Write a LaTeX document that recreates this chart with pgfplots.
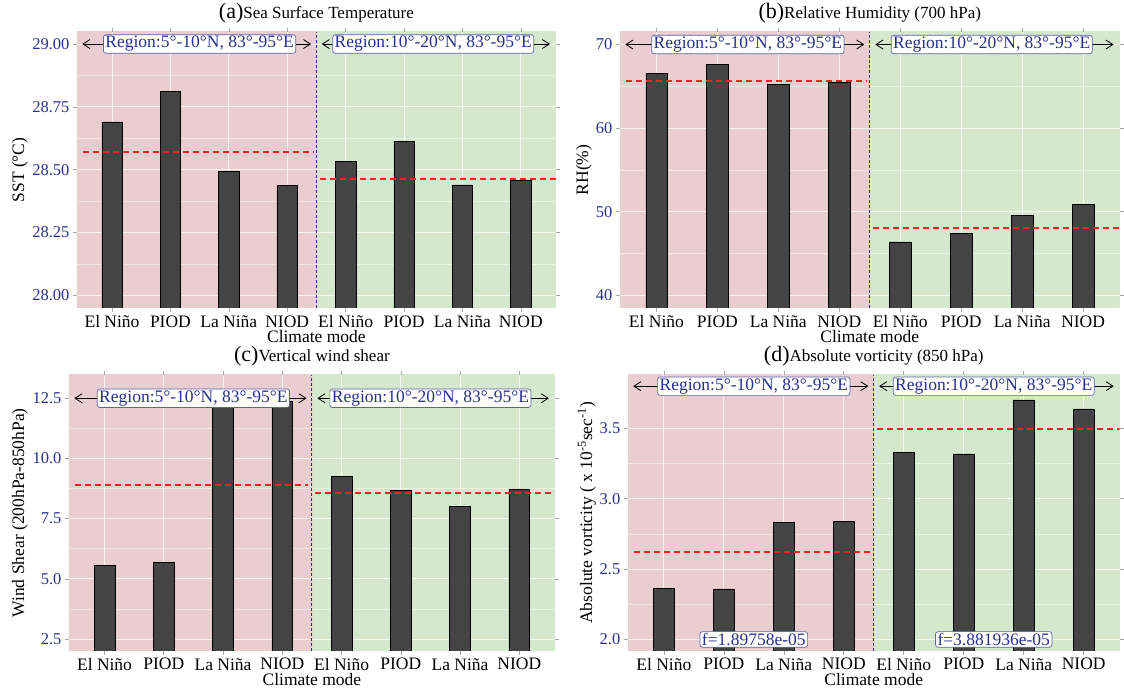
\documentclass[border=0pt]{standalone}
\usepackage{pgfplots}
\pgfplotsset{compat=1.18}
\usepackage{fontspec}
\setmainfont{Liberation Serif}
\usetikzlibrary{arrows.meta}
\definecolor{pinkbg}{RGB}{233,205,209}
\definecolor{greenbg}{RGB}{212,232,205}
\definecolor{navy}{RGB}{40,50,140}
\definecolor{boxdraw}{RGB}{90,100,170}
\definecolor{barfill}{RGB}{68,68,68}
\definecolor{redline}{RGB}{250,35,35}
\pgfdeclarehorizontalshading{split}{100bp}{color(0bp)=(pinkbg); color(50bp)=(pinkbg); color(50.001bp)=(greenbg); color(100bp)=(greenbg)}
\tikzset{lab/.style={fill=white, draw=boxdraw, rounded corners=2.5pt, inner xsep=2pt, inner ysep=1.5pt, text=navy, line width=0.7pt, font=\fontsize{17.5}{19}\selectfont}}
\pgfplotsset{
  panel/.style={
    scale only axis, height=276pt,
    xmin=0.4, xmax=8.6,
    xtick={1,...,8},
    xticklabels={El Niño,PIOD,La Niña,NIOD,El Niño,PIOD,La Niña,NIOD},
    axis background/.style={shading=split},
    axis line style={draw=none},
    tick align=outside, major tick length=4pt, minor tick length=0pt,
    tick style={gray!70, line width=0.6pt},
    xmajorgrids, ymajorgrids, yminorgrids, minor y tick num=1,
    major grid style={white, opacity=0.75, line width=1pt},
    minor grid style={white, opacity=0.45, line width=0.5pt},
    /pgf/number format/assume math mode=true,
    yticklabel style={text=navy, font=\fontsize{16.5}{18}\selectfont},
    xticklabel style={text=black, font=\fontsize{17.5}{19}\selectfont},
    xlabel={Climate mode},
    label style={font=\fontsize{17.5}{19}\selectfont},
    xlabel style={at={(rel axis cs:0.5,0)}, anchor=center, yshift=-29pt},
    title style={at={(rel axis cs:0.5,1)}, anchor=base, yshift=7pt, font=\fontsize{17}{19}\selectfont},
    no markers,
  },
  barp/.style={ybar, bar width=0.35, fill=barfill, draw=black, line width=0.5pt},
  meanl/.style={draw=redline, line width=1.9pt, dash pattern=on 6pt off 4pt},
  divl/.style={draw=navy, line width=1pt, dash pattern=on 3pt off 2pt},
  arrl/.style={black, line width=0.8pt, {Straight Barb[length=7pt,width=9pt]}-{Straight Barb[length=7pt,width=9pt]}},
}
\begin{document}
\begin{tikzpicture}
% (a)
\begin{axis}[panel, at={(77pt,380pt)}, anchor=south west, width=479pt,
  ymin=27.95, ymax=29.048, ytick={28,28.25,28.5,28.75,29},
  yticklabel style={/pgf/number format/.cd, fixed, fixed zerofill, precision=2},
  ylabel={SST (°C)}, ylabel style={at={(rel axis cs:-0.119,0.5)}, anchor=center},
  title={{\fontsize{22}{24}\selectfont(a)}Sea Surface Temperature}]
\addplot[barp] coordinates {(1,28.690) (2,28.812) (3,28.493) (4,28.438) (5,28.534) (6,28.614) (7,28.440) (8,28.458)};
\addplot[meanl] coordinates {(0.5,28.572) (4.44,28.572)};
\addplot[meanl] coordinates {(4.56,28.463) (8.6,28.463)};
\addplot[divl] coordinates {(4.5,27.95) (4.5,29.048)};
\addplot[arrl] coordinates {(0.49,29) (4.41,29)};
\addplot[arrl] coordinates {(4.59,29) (8.5,29)};
\node[lab] at (axis cs:2.5,29) {Region:5°-10°N, 83°-95°E};
\node[lab] at (axis cs:6.5,29) {Region:10°-20°N, 83°-95°E};
\end{axis}
% (b)
\begin{axis}[panel, at={(620pt,380pt)}, anchor=south west, width=500pt,
  ymin=38.5, ymax=71.5, ytick={40,50,60,70},
  ylabel={RH(\%)}, ylabel style={at={(rel axis cs:-0.072,0.5)}, anchor=center},
  title={{\fontsize{22}{24}\selectfont(b)}Relative Humidity (700 hPa)}]
\addplot[barp] coordinates {(1,66.53) (2,67.65) (3,65.22) (4,65.50) (5,46.41) (6,47.37) (7,49.56) (8,50.88)};
\addplot[meanl] coordinates {(0.5,65.62) (4.44,65.62)};
\addplot[meanl] coordinates {(4.56,48.1) (8.6,48.1)};
\addplot[divl] coordinates {(4.5,38.5) (4.5,71.5)};
\addplot[arrl] coordinates {(0.49,70) (4.41,70)};
\addplot[arrl] coordinates {(4.59,70) (8.5,70)};
\node[lab] at (axis cs:2.5,70) {Region:5°-10°N, 83°-95°E};
\node[lab] at (axis cs:6.5,70) {Region:10°-20°N, 83°-95°E};
\end{axis}
% (c)
\begin{axis}[panel, at={(69pt,37pt)}, anchor=south west, width=486pt,
  ymin=2.01, ymax=13.47, ytick={2.5,5,7.5,10,12.5},
  yticklabel style={/pgf/number format/.cd, fixed, fixed zerofill, precision=1},
  ylabel={Wind Shear (200hPa-850hPa)}, ylabel style={at={(rel axis cs:-0.1008,0.5)}, anchor=center},
  title={{\fontsize{22}{24}\selectfont(c)}Vertical wind shear}]
\addplot[barp] coordinates {(1,5.56) (2,5.69) (3,12.25) (4,12.36) (5,9.25) (6,8.67) (7,8.00) (8,8.74)};
\addplot[meanl] coordinates {(0.5,8.90) (4.44,8.90)};
\addplot[meanl] coordinates {(4.56,8.55) (8.6,8.55)};
\addplot[divl] coordinates {(4.5,2.01) (4.5,13.47)};
\addplot[arrl] coordinates {(0.49,12.5) (4.41,12.5)};
\addplot[arrl] coordinates {(4.59,12.5) (8.5,12.5)};
\node[lab] at (axis cs:2.5,12.5) {Region:5°-10°N, 83°-95°E};
\node[lab] at (axis cs:6.5,12.5) {Region:10°-20°N, 83°-95°E};
\end{axis}
% (d)
\begin{axis}[panel, at={(628pt,37pt)}, anchor=south west, width=492pt,
  ymin=1.919, ymax=3.88, ytick={2,2.5,3,3.5},
  yticklabel style={/pgf/number format/.cd, fixed, fixed zerofill, precision=1},
  ylabel={Absolute vorticity ( x 10\textsuperscript{-5}sec\textsuperscript{-1})}, ylabel style={at={(rel axis cs:-0.0833,0.5)}, anchor=center},
  title={{\fontsize{22}{24}\selectfont(d)}Absolute vorticity (850 hPa)}]
\addplot[barp] coordinates {(1,2.364) (2,2.360) (3,2.833) (4,2.838) (5,3.331) (6,3.319) (7,3.702) (8,3.638)};
\addplot[meanl] coordinates {(0.5,2.619) (4.44,2.619)};
\addplot[meanl] coordinates {(4.56,3.498) (8.6,3.498)};
\addplot[divl] coordinates {(4.5,1.919) (4.5,3.88)};
\addplot[arrl] coordinates {(0.49,3.80) (4.41,3.80)};
\addplot[arrl] coordinates {(4.59,3.80) (8.5,3.80)};
\node[lab] at (axis cs:2.5,3.80) {Region:5°-10°N, 83°-95°E};
\node[lab] at (axis cs:6.5,3.80) {Region:10°-20°N, 83°-95°E};
\node[lab] at (axis cs:2.5,2.0) {f=1.89758e-05};
\node[lab] at (axis cs:6.5,2.0) {f=3.881936e-05};
\end{axis}
\path[use as bounding box] (0,0) rectangle (1124pt,688pt);
\end{tikzpicture}
\end{document}
